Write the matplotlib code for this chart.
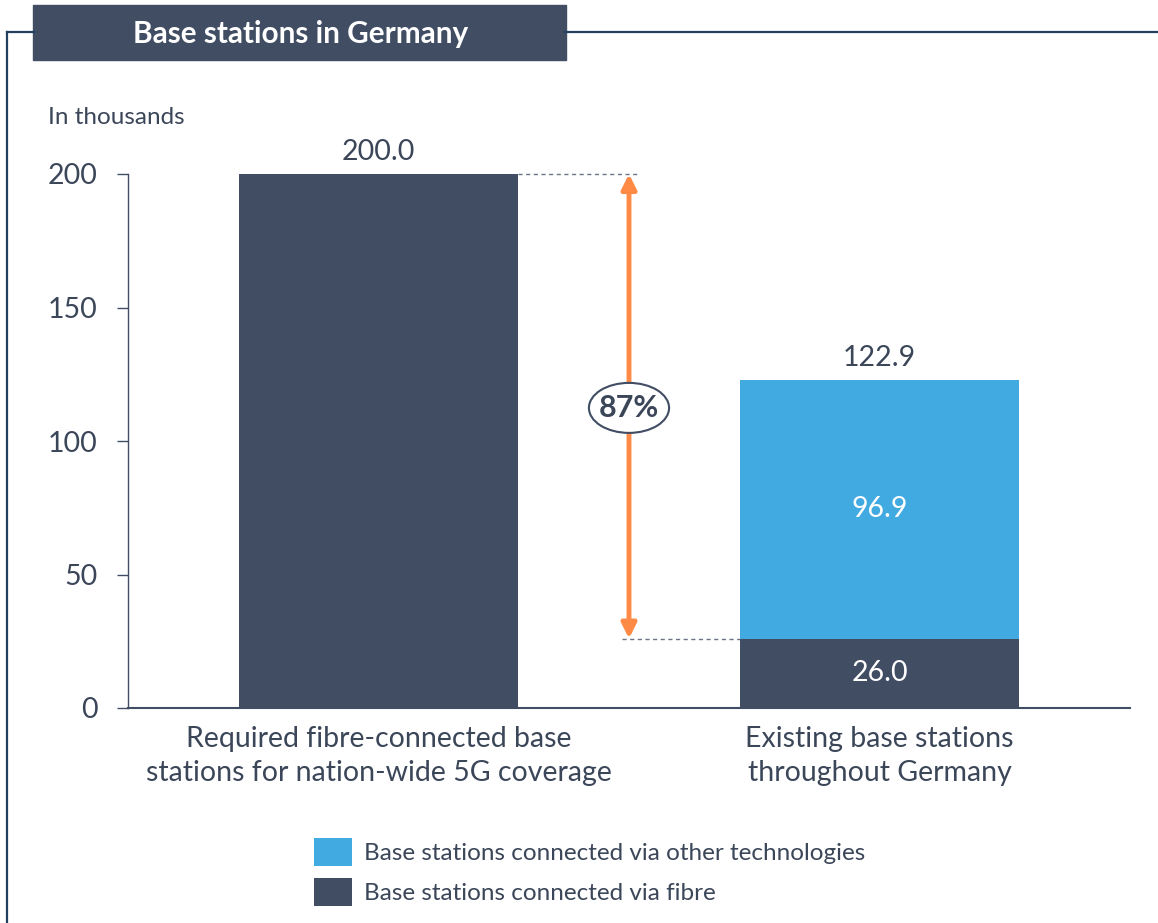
import matplotlib
matplotlib.use('Agg')
import matplotlib.pyplot as plt
from matplotlib.lines import Line2D
from matplotlib.patches import Rectangle, Ellipse

# Data (thousands of base stations).
categories = ['Required fibre-connected base\nstations for nation-wide 5G coverage',
              'Existing base stations\nthroughout Germany']
fibre = [200.0, 26.0]
other = [0.0, 96.9]
totals = [200.0, 122.9]
gap_label = '87%'
series_labels = ['Base stations connected via other technologies',
                 'Base stations connected via fibre']
yticks = [0, 50, 100, 150, 200]

DARK = '#404d63'
BLUE = '#41aae1'
ORANGE = '#ff8a45'
TEXT = '#3b4659'
FRAME = '#23405e'

plt.rcParams['font.family'] = ['Lato', 'DejaVu Sans']

fig = plt.figure(figsize=(11.58, 9.23), dpi=100)
W, H = 1158, 923


def fx(px):
    return px / W


def fy(py):
    return 1 - py / H


# Frame and title box.
fig.lines.append(Line2D([fx(7), fx(7)], [fy(32), 0], transform=fig.transFigure,
                        color=FRAME, lw=1.6))
fig.lines.append(Line2D([fx(7), fx(34)], [fy(32), fy(32)], transform=fig.transFigure,
                        color=FRAME, lw=1.6))
fig.lines.append(Line2D([fx(565), 1], [fy(32), fy(32)], transform=fig.transFigure,
                        color=FRAME, lw=1.6))
fig.patches.append(Rectangle((fx(33), fy(60)), fx(566 - 33), (60 - 5) / H,
                             transform=fig.transFigure, color=DARK))
fig.text(fx(301), fy(34), 'Base stations in Germany', color='white', fontsize=21.4,
         fontweight='bold', ha='center', va='center')
fig.text(fx(48), fy(117), 'In thousands', color=TEXT, fontsize=17.5,
         ha='left', va='center')

ax = fig.add_axes([fx(128), fy(708), fx(1130 - 128), (708 - 174) / H])
x = list(range(len(categories)))
width = 0.555
b_fibre = ax.bar(x, fibre, width=width, color=DARK, zorder=2)
b_other = ax.bar(x, other, width=width, bottom=fibre, color=BLUE, zorder=2)

FS = 20.5
ax.set_xlim(-0.5, 1.5)
ax.set_ylim(0, 200)
ax.set_yticks(yticks)
ax.set_xticks(x)
ax.set_xticklabels(categories)
for s in ['top', 'right']:
    ax.spines[s].set_visible(False)
ax.spines['left'].set_color(DARK)
ax.spines['bottom'].set_color(DARK)
ax.spines['left'].set_linewidth(1.0)
ax.spines['bottom'].set_linewidth(1.5)
ax.tick_params(axis='y', length=8, width=1.0, color=DARK, labelsize=FS,
               labelcolor=TEXT, pad=14)
ax.tick_params(axis='x', length=0, labelsize=FS, labelcolor=TEXT, pad=13)
for lab in ax.get_xticklabels():
    lab.set_linespacing(1.38)

# Value labels.
for i, t in enumerate(totals):
    ax.text(i, t + 8.3, f'{t:.1f}', ha='center', va='center', fontsize=FS, color=TEXT)
ax.text(1, fibre[1] / 2, f'{fibre[1]:.1f}', ha='center', va='center',
        fontsize=FS, color='white', zorder=3)
ax.text(1, fibre[1] + other[1] / 2, f'{other[1]:.1f}', ha='center', va='center',
        fontsize=FS, color='white', zorder=3)

# Gap annotation.
mid = 0.5
ax.plot([width / 2, mid + 0.016], [totals[0], totals[0]], ls=(0, (3, 2.5)),
        color='#6b7587', lw=1.0, zorder=1, clip_on=False)
ax.plot([mid - 0.014, 1 - width / 2], [fibre[1], fibre[1]], ls=(0, (3, 2.5)),
        color='#6b7587', lw=1.0, zorder=1)
ax.annotate('', xy=(mid, totals[0]), xytext=(mid, fibre[1]),
            arrowprops=dict(arrowstyle='<|-|>', color=ORANGE, lw=3.5,
                            mutation_scale=22, shrinkA=0, shrinkB=0),
            annotation_clip=False)
ax.add_patch(Ellipse((mid, 112.4), 0.16, 50 * 200 / 534, facecolor='white',
                     edgecolor=DARK, lw=1.5, zorder=4))
ax.text(mid, 112.4, gap_label, ha='center', va='center', fontsize=22,
        fontweight='bold', color=TEXT, zorder=5)

fig.legend([b_other, b_fibre], series_labels, loc='upper left',
           bbox_to_anchor=(fx(314), fy(838)), frameon=False, fontsize=17.5,
           handlelength=1.55, handleheight=1.4, handletextpad=0.5,
           labelspacing=0.5, borderpad=0, borderaxespad=0, labelcolor=TEXT)

fig.savefig('out.png', dpi=100)
